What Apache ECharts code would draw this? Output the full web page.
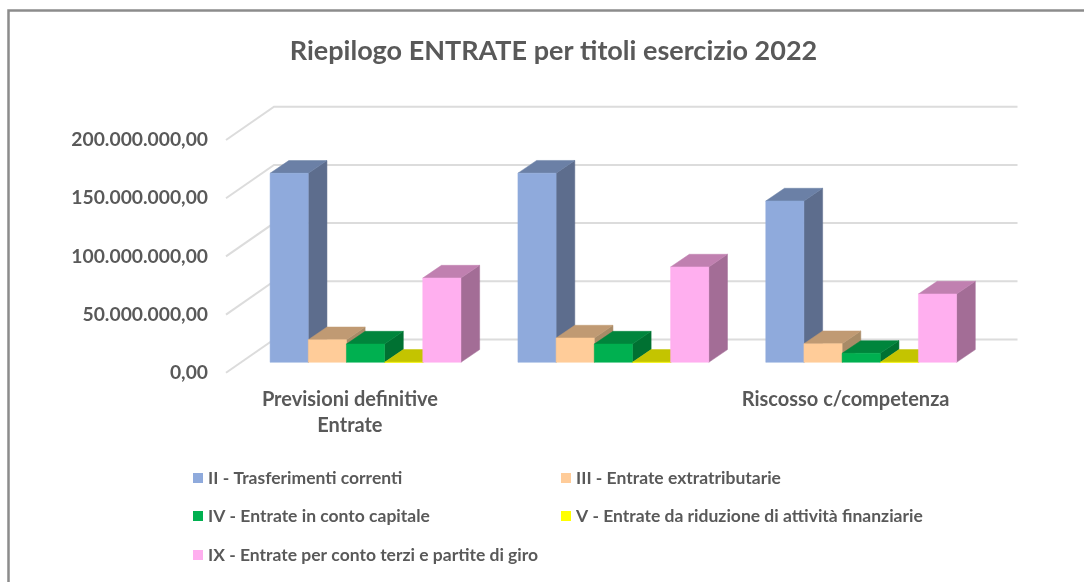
<!DOCTYPE html>
<html>
<head>
<meta charset="utf-8">
<title>Riepilogo ENTRATE</title>
<script src="https://cdn.jsdelivr.net/npm/echarts@6/dist/echarts.min.js"></script>
<style>
html, body { margin: 0; padding: 0; background: #fff; }
#chartmain { width: 1084px; height: 582px; }
</style>
</head>
<body>
<div id="chartmain"></div>
<script>
var categories = ['Previsioni definitive\nEntrate', 'Accertato', 'Riscosso c/competenza'];
var yTicks = [0, 50000000, 100000000, 150000000, 200000000];

var titoliII = [162400000, 162500000, 138600000];
var titoliIII = [19400000, 20900000, 16000000];
var titoliIV = [15700000, 15700000, 7700000];
var titoliV = [0, 0, 0];
var titoliIX = [72400000, 81900000, 58700000];

var seriesNames = [
	'II - Trasferimenti correnti',
	'III - Entrate extratributarie',
	'IV - Entrate in conto capitale',
	'V - Entrate da riduzione di attività finanziarie',
	'IX - Entrate per conto terzi e partite di giro'
];
var seriesValues = [titoliII, titoliIII, titoliIV, titoliV, titoliIX];

// front, top, side
var seriesColors = [
	['#8FAADC', '#6B80A6', '#5D6D8D'],
	['#FFCC99', '#C09A73', '#A88B67'],
	['#00B050', '#00853C', '#007132'],
	['#FFFF00', '#C4C400', '#A6A600'],
	['#FFAFEF', '#C080B0', '#A36D96']
];
var legendPos = [[193, 469], [561, 469], [193, 507], [561, 507], [193, 546]];

var wallDx = 48, wallDy = -33.3;      // depth of the floor
var barOffDx = 15.6, barOffDy = -10.5; // bars stand inside the floor
var barDx = 18.7, barDy = -12.7;      // depth of one bar
var fontName = 'Lato';
var textColor = '#595959';

function formatMoney(v) {
	return String(v).replace(/\B(?=(\d{3})+$)/g, '.') + ',00';
}

function poly(points, color) {
	return {
		type: 'polygon',
		shape: { points: points },
		style: { fill: color, stroke: color, lineWidth: 0.5 }
	};
}

function barRenderer(barIndex) {
	var colors = seriesColors[barIndex];
	return function(params, api) {
		var cat = api.value(0);
		var top = api.coord([cat, api.value(1)]);
		var base = api.coord([cat, 0]);
		var w = api.size([1, 0])[0] * 0.154;
		var x0 = base[0] + barOffDx + (barIndex - 2.5) * w;
		var x1 = x0 + w;
		var y0 = base[1] + barOffDy;
		var y1 = top[1] + barOffDy;
		return {
			type: 'group',
			children: [
				poly([[x1, y0], [x1 + barDx, y0 + barDy], [x1 + barDx, y1 + barDy], [x1, y1]], colors[2]),
				poly([[x0, y1], [x1, y1], [x1 + barDx, y1 + barDy], [x0 + barDx, y1 + barDy]], colors[1]),
				poly([[x0, y0], [x1, y0], [x1, y1], [x0, y1]], colors[0])
			]
		};
	};
}

function wallRenderer(params, api) {
	var halfBand = api.size([1, 0])[0] / 2;
	var first = api.coord([0, api.value(0)]);
	var last = api.coord([categories.length - 1, api.value(0)]);
	var startX = first[0] - halfBand;
	var endX = last[0] + halfBand;
	return {
		type: 'polyline',
		shape: {
			points: [
				[startX, first[1]],
				[startX + wallDx, first[1] + wallDy],
				[endX + wallDx, first[1] + wallDy]
			]
		},
		style: { fill: 'none', stroke: '#DCDCDC', lineWidth: 2 }
	};
}

var series = [{
	type: 'custom',
	silent: true,
	clip: false,
	renderItem: wallRenderer,
	encode: { y: 0 },
	data: yTicks.map(function(v) { return [v]; })
}];

var legends = [];
for (var i = 0; i < seriesNames.length; i++) {
	series.push({
		name: seriesNames[i],
		type: 'custom',
		silent: true,
		clip: false,
		itemStyle: { color: seriesColors[i][0] },
		renderItem: barRenderer(i),
		encode: { x: 0, y: 1 },
		data: seriesValues[i].map(function(v, c) { return [c, v]; })
	});
	legends.push({
		data: [seriesNames[i]],
		left: legendPos[i][0],
		top: legendPos[i][1],
		padding: 0,
		icon: 'rect',
		itemWidth: 10,
		itemHeight: 10,
		itemGap: 0,
		selectedMode: false,
		textStyle: { fontFamily: fontName, fontSize: 17.5, fontWeight: 'bold', color: textColor }
	});
}

var option = {
	animation: false,
	backgroundColor: '#fff',
	title: {
		text: 'Riepilogo ENTRATE per titoli esercizio 2022',
		left: 548.5,
		top: 33,
		textAlign: 'center',
		textStyle: { fontFamily: fontName, fontSize: 27, fontWeight: 'bold', color: textColor }
	},
	legend: legends,
	grid: { left: 226, top: 140, width: 743.5, height: 232.8 },
	xAxis: {
		type: 'category',
		data: categories,
		axisLine: { show: false },
		axisTick: { show: false },
		axisLabel: {
			margin: 14,
			lineHeight: 26,
			fontFamily: fontName,
			fontSize: 20,
			fontWeight: 'bold',
			color: textColor
		}
	},
	yAxis: {
		type: 'value',
		min: 0,
		max: 200000000,
		interval: 50000000,
		splitLine: { show: false },
		axisLine: { show: false },
		axisTick: { show: false },
		axisLabel: {
			margin: 18,
			formatter: formatMoney,
			fontFamily: fontName,
			fontSize: 19.3,
			fontWeight: 'bold',
			color: textColor
		}
	},
	graphic: [{
		type: 'polyline',
		silent: true,
		shape: { points: [[8.5, 582], [8.5, 10.5], [1084, 10.5]] },
		style: { fill: 'none', stroke: '#8C8C8C', lineWidth: 2.5 }
	}],
	series: series
};

var myChart = echarts.init(document.getElementById('chartmain'));
myChart.setOption(option);
</script>
</body>
</html>
